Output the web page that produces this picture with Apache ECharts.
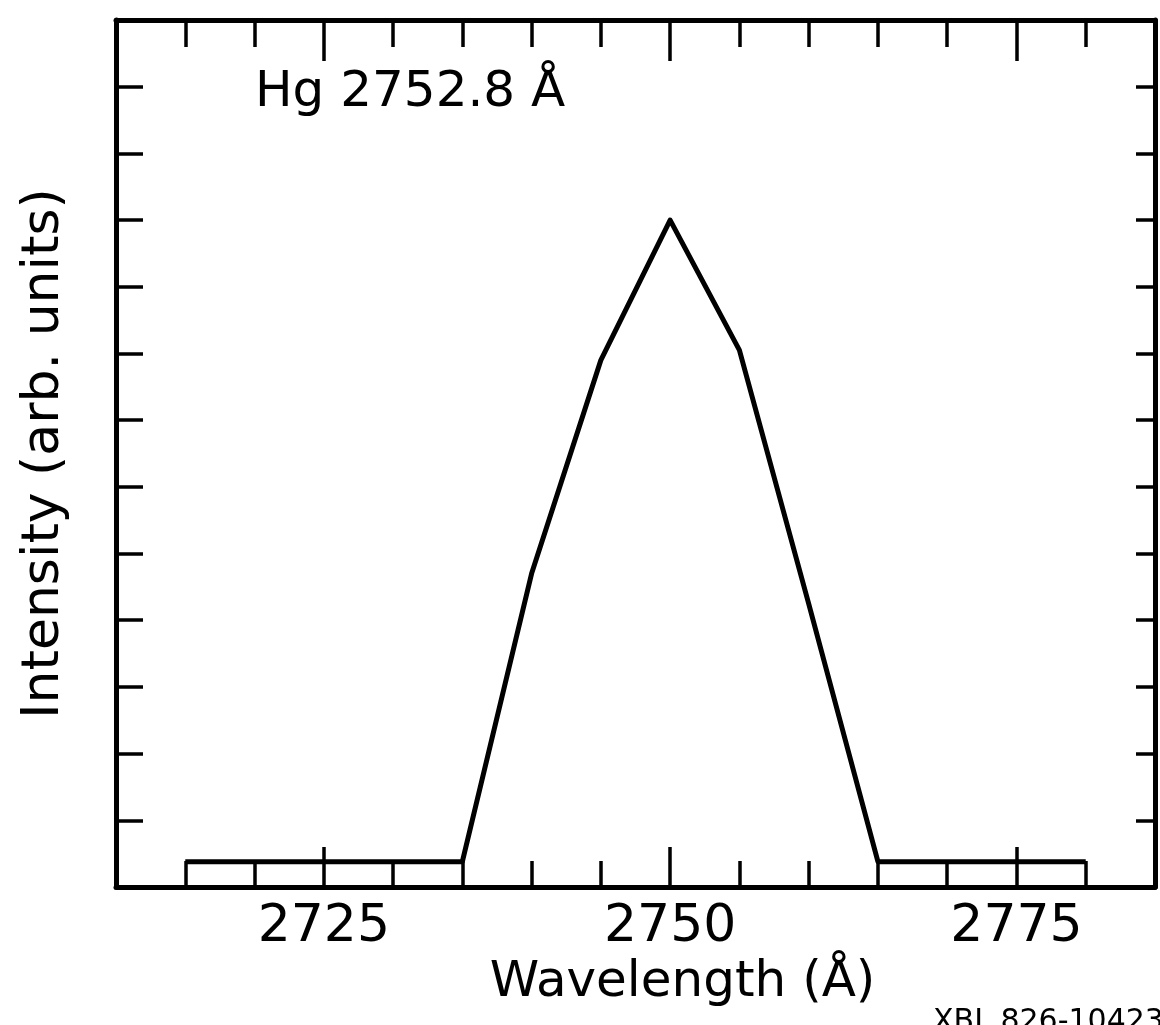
<!DOCTYPE html>
<html><head><meta charset="utf-8">
<script src="https://cdn.jsdelivr.net/npm/echarts@6/dist/echarts.min.js"></script>
<style>html,body{margin:0;padding:0;background:#fff}#c{width:1160px;height:1025px}</style>
</head><body><div id="c"></div>
<script>
var wavelengths = [2715, 2720, 2725, 2730, 2735, 2740, 2745, 2750, 2755, 2760, 2765, 2770, 2775, 2780];
var intensity   = [0.38, 0.38, 0.38, 0.38, 0.38, 4.7, 7.9, 10.0, 8.05, 4.25, 0.38, 0.38, 0.38, 0.38];
var xMinorTicks = [2715, 2720, 2725, 2730, 2735, 2740, 2745, 2750, 2755, 2760, 2765, 2770, 2775, 2780];
var xMajorTicks = [2725, 2750, 2775];
var xLabels     = [2725, 2750, 2775];
var yTicks      = [1, 2, 3, 4, 5, 6, 7, 8, 9, 10, 11, 12];
var xTitle = 'Wavelength (Å)';
var yTitle = 'Intensity (arb. units)';
var lineLabel = 'Hg 2752.8 Å';
var figId = 'XBL 826-10423';

var FONT = 'DejaVu Sans';
var axisLine = {show: true, lineStyle: {color: '#000', width: 5}};
function xAx(pos, ticks, len, extra) {
  return Object.assign({
    type: 'value', position: pos, min: 2710, max: 2785,
    axisLine: axisLine, splitLine: {show: false},
    axisTick: {show: true, inside: true, length: len, customValues: ticks, lineStyle: {color: '#000', width: 3.5}},
    axisLabel: {show: false}
  }, extra || {});
}
function yAx(pos, len, extra) {
  return Object.assign({
    type: 'value', position: pos, min: 0, max: 13,
    axisLine: axisLine, splitLine: {show: false},
    axisTick: {show: true, inside: true, length: len, customValues: yTicks, lineStyle: {color: '#000', width: 3.5}},
    axisLabel: {show: false}
  }, extra || {});
}
var data = wavelengths.map(function (w, i) { return [w, intensity[i]]; });
var chart = echarts.init(document.getElementById('c'), null, {renderer: 'canvas'});
chart.setOption({
  backgroundColor: '#fff',
  animation: false,
  title: [
    {text: lineLabel, left: 250, top: 63, textStyle: {fontFamily: FONT, fontSize: 50, fontWeight: 'normal', color: '#000'}},
    {text: figId, left: 928, top: 1002, textStyle: {fontFamily: FONT, fontSize: 30, fontWeight: 'normal', color: '#000'}}
  ],
  grid: {left: 116, right: 5, top: 20, bottom: 138, containLabel: false},
  xAxis: [
    xAx('bottom', xMinorTicks, 26, {
      name: xTitle, nameLocation: 'middle', nameGap: 58,
      nameTextStyle: {fontFamily: FONT, fontSize: 50, color: '#000', padding: [0, 0, 0, 94]},
      axisLabel: {show: true, customValues: xLabels, margin: 14, fontFamily: FONT, fontSize: 52, color: '#000',
        formatter: function (v) { return String(v); }}
    }),
    xAx('bottom', xMajorTicks, 40, {axisLine: {show: false}}),
    xAx('top', xMinorTicks, 27),
    xAx('top', xMajorTicks, 41, {axisLine: {show: false}})
  ],
  yAxis: [
    yAx('left', 27, {
      name: yTitle, nameLocation: 'middle', nameGap: 46, nameRotate: 90,
      nameTextStyle: {fontFamily: FONT, fontSize: 52, color: '#000'}
    }),
    yAx('right', 19)
  ],
  series: [{
    type: 'line', data: data, xAxisIndex: 0, yAxisIndex: 0,
    showSymbol: false, symbol: 'none',
    lineStyle: {color: '#000', width: 5, join: 'round'}
  }]
});
</script></body></html>
